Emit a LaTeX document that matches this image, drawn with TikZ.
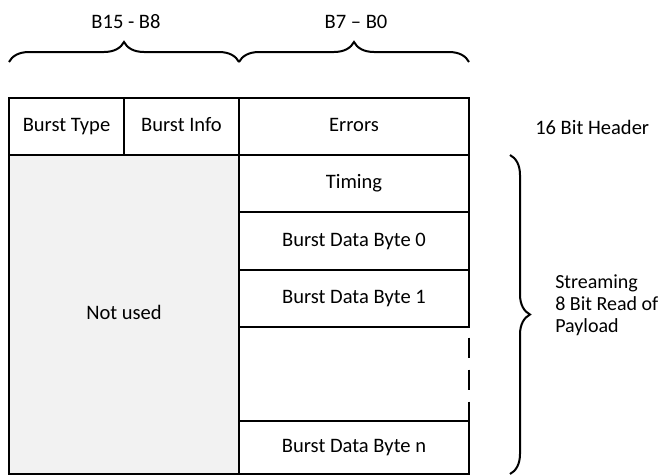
\documentclass[tikz,border=0pt]{standalone}
\usepackage{fontspec}
\setmainfont{Carlito}
\usetikzlibrary{decorations.pathreplacing, positioning}

\tikzset{
  cell/.style={draw, line width=1.5pt, inner sep=0pt, text height=0.95em, text depth=0.13em,
    minimum height=#1*0.75pt},
  txt/.style={inner sep=0pt},
  curly/.style={decorate, decoration={brace, amplitude=15pt}, line width=1.5pt}
}

\begin{document}
\begin{tikzpicture}[x=0.75pt, y=-0.75pt, font=\fontsize{15.4}{16.5}\selectfont]
\useasboundingbox (0,0) rectangle (660,475);
% Header row: 16 bit
\node[cell=57, minimum width=115*0.75pt] (btype) at (66.5,126.5) {Burst Type};
\node[cell=57, minimum width=115*0.75pt] (binfo) at (181.5,126.5) {Burst Info};
\node[cell=57, minimum width=230*0.75pt] (errors) at (354,126.5) {Errors};
% Left: unused upper byte
\node[cell=319, minimum width=230*0.75pt, fill=black!5] (notused) at (124,314.5) {Not used};
% Right: payload bytes
\node[cell=57, minimum width=230*0.75pt] (timing) at (354,183.5) {Timing};
\node[cell=58, minimum width=230*0.75pt] (byte0) at (354,241) {Burst Data Byte 0};
\node[cell=57, minimum width=230*0.75pt] (byte1) at (354,298.5) {Burst Data Byte 1};
\node[txt, minimum width=230*0.75pt, minimum height=94*0.75pt] (gap) at (354,374) {};
\node[cell=53, minimum width=230*0.75pt] (byten) at (354,447.5) {Burst Data Byte n};
\draw[line width=1.5pt] (gap.north west) -- (gap.south west);
\draw[line width=1.5pt, dash pattern=on 15pt off 9pt, dash phase=15.75pt] (gap.north east) -- (gap.south east);
% Braces and labels
\draw[curly] (9,62) -- (239,62);
\draw[curly] (239,62) -- (469,62);
\node[txt] (hi) at (126,22) {B15 - B8};
\node[txt] (lo) at (356,22) {B7 -- B0};
\draw[curly] (510,155) -- (510,474);
\node[txt, anchor=west] (header) at (535,127) {16 Bit Header};
\node[txt, anchor=west, align=left, font=\fontsize{15}{16.5}\selectfont] (stream) at (555,305) {Streaming\\8 Bit Read of\\Payload};
\end{tikzpicture}
\end{document}
